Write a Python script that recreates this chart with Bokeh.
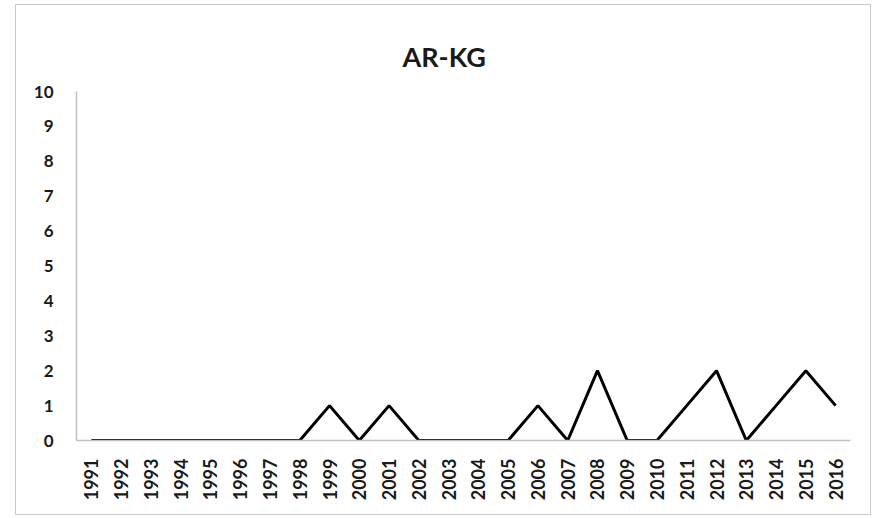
from bokeh.plotting import figure
from bokeh.models import Range1d, FactorRange, SingleIntervalTicker
from bokeh.embed import file_html
from bokeh.resources import INLINE
import math

years = [str(y) for y in range(1991, 2017)]
counts = [0, 0, 0, 0, 0, 0, 0, 0, 1, 0, 1, 0, 0, 0, 0, 1, 0, 2, 0, 0, 1, 2, 0, 1, 2, 1]
title_text = "AR-KG"

FONT = "Lato"

p = figure(width=856, height=511, x_range=FactorRange(*years, range_padding=0),
           y_range=Range1d(0, 10), output_backend="svg", toolbar_location=None,
           min_border_left=60, min_border_right=22, min_border_top=86, min_border_bottom=76)
p.styles = {"border": "1px solid #c8c8c8", "margin-left": "15px", "margin-top": "4px"}

p.line(years, counts, line_color="black", line_width=3)

p.title.text = title_text
p.title.align = "left"
p.title.offset = 326
p.title.standoff = 37
p.title.text_font = FONT
p.title.text_font_style = "bold"
p.title.text_font_size = "27px"
p.title.text_color = "#1a1a1a"

p.xgrid.visible = False
p.ygrid.visible = False
p.outline_line_color = None

p.yaxis.ticker = SingleIntervalTicker(interval=1)
for ax in (p.xaxis[0], p.yaxis[0]):
    ax.axis_line_color = "#bfbfbf"
    ax.axis_line_width = 1.5
    ax.major_tick_line_color = None
    ax.minor_tick_line_color = None
    ax.major_label_text_font = FONT
    ax.major_label_text_font_style = "bold"
    ax.major_label_text_color = "#1a1a1a"
p.yaxis.major_label_text_font_size = "17px"
p.yaxis.major_label_standoff = 17
p.xaxis.major_label_text_font_size = "18px"
p.xaxis.major_label_orientation = math.pi / 2
p.xaxis.major_label_standoff = 12

open("out.html", "w").write(file_html(p, INLINE))
